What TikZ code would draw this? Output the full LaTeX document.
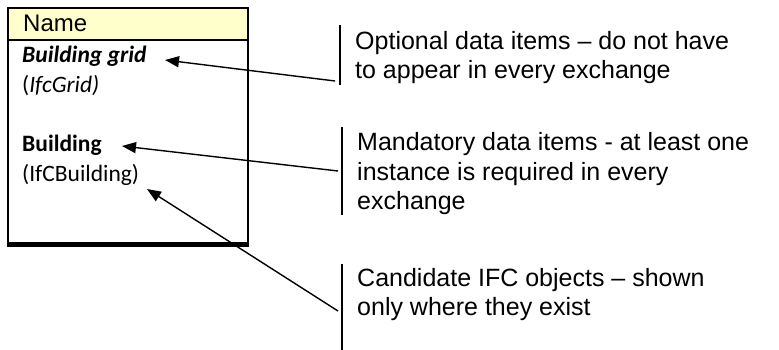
\documentclass[tikz,border=0pt]{standalone}
\usepackage{fontspec}
\setmainfont{Liberation Sans}
\newfontfamily\calfont{Carlito}
\usetikzlibrary{arrows.meta}
\definecolor{hdr}{RGB}{255,255,204}
\tikzset{
  rtext/.style={anchor=base west, inner sep=0pt, font=\fontsize{25}{29}\selectfont},
  btext/.style={anchor=base west, inner sep=0pt, font=\calfont\fontsize{23.5}{28}\selectfont},
  bar/.style={line width=1.6pt},
  arr/.style={line width=1.4pt, -{Triangle[length=14pt,width=11pt]}},
}
\begin{document}
\begin{tikzpicture}[x=1pt,y=-1pt]
\useasboundingbox (0,0) rectangle (779,350);
% box
\fill[hdr] (8,8) rectangle (248,40);
\draw[line width=2pt] (8,8) rectangle (248,244);
\draw[line width=1.6pt] (8,40) -- (248,40);
\draw[line width=4.5pt] (7,244.5) -- (249,244.5);
\node[anchor=base west, inner sep=0pt, font=\fontsize{24}{28}\selectfont] (name) at (23,32) {Name};
\node[btext] (bg) at (22,63) {\textbf{\textit{Building grid}}};
\node[btext] (ifcgrid) at (22,93) {(\textit{IfcGrid)}};
\node[btext] (bld) at (22,152) {\textbf{Building}};
\node[btext] (ifcbld) at (22,182) {(IfCBuilding)};
% bars
\draw[bar] (340,25) -- (340,85);
\draw[bar] (342,127) -- (342,215);
\draw[bar] (342,264) -- (342,350);
% texts
\node[rtext] (o1) at (355,50) {Optional data items – do not have};
\node[rtext] (o2) at (355,79) {to appear in every exchange};
\node[rtext] (m1) at (357,150) {Mandatory data items - at least one};
\node[rtext] (m2) at (357,180) {instance is required in every};
\node[rtext] (m3) at (357,209) {exchange};
\node[rtext] (c1) at (357,286) {Candidate IFC objects – shown};
\node[rtext] (c2) at (357,315) {only where they exist};
% arrows
\coordinate (e1) at (335,81);
\coordinate (t1) at (165,60);
\coordinate (e2) at (338,171);
\coordinate (t2) at (122,146);
\coordinate (e3) at (338,311);
\coordinate (t3) at (147,189);
\draw[arr] (e1) -- (t1);
\draw[arr] (e2) -- (t2);
\draw[arr] (e3) -- (t3);
\end{tikzpicture}
\end{document}
